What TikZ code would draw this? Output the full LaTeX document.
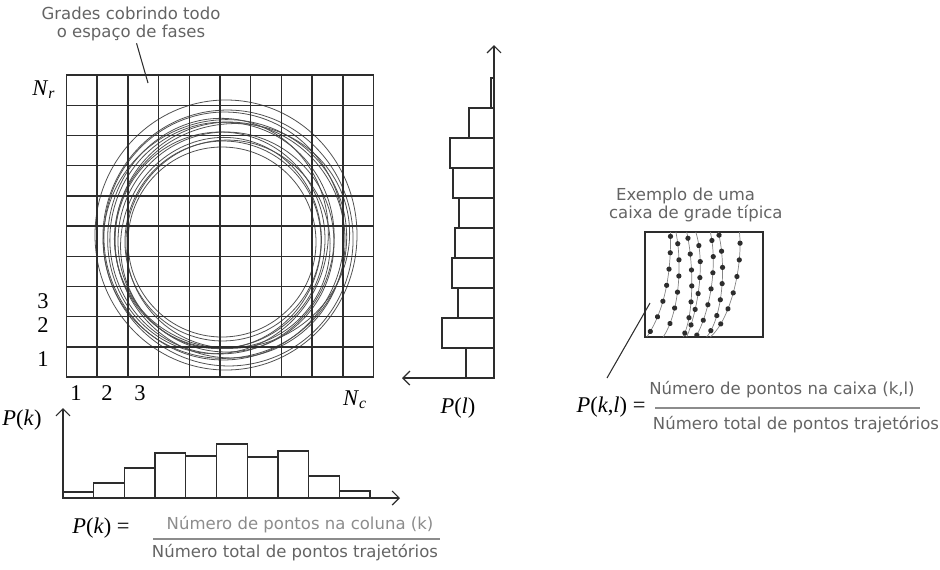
\documentclass[tikz,border=0pt]{standalone}
\usepackage{fontspec}
\setmainfont{Liberation Serif}
\newfontfamily\notefont{DejaVu Sans}
\usepackage{tikz}
\usetikzlibrary{arrows.meta,decorations.markings}
\definecolor{inkgray}{RGB}{45,45,45}
\definecolor{notegray}{RGB}{100,100,100}
\definecolor{numgray}{RGB}{140,140,140}
\definecolor{trajgray}{RGB}{80,80,80}

\begin{document}
\begin{tikzpicture}[x=0.02cm, y=-0.02cm, >={Straight Barb[length=4pt,width=8pt]},
  gridline/.style={draw=inkgray, line width=0.8pt, line cap=rect},
  traj/.style={draw=trajgray, line width=0.45pt},
  bar/.style={draw=inkgray, line width=0.7pt},
  axis/.style={->, draw=inkgray, line width=0.7pt},
  pointer/.style={draw=inkgray, line width=0.6pt},
  fracline/.style={draw=numgray, line width=0.6pt},
  note/.style={font=\notefont\fontsize{9.4}{10.4}\selectfont, text=notegray, align=center, inner sep=1pt},
  sym/.style={font=\fontsize{12.8}{14}\selectfont, text=black, inner sep=1pt},
  dotline/.style={draw=trajgray!70, line width=0.4pt, postaction={decorate}, decoration={markings,
    mark=between positions #1 and 0.99 step 0.15 with {\fill[inkgray] (0,0) circle (1.5pt);}}}]
  \useasboundingbox (0,0) rectangle (940,569);

  % phase space grid with trajectories
  \foreach \cx/\cy/\rx/\ry/\rot in {226/235/131/135/0, 228/238/125/128/8, 224/236/120/124/-6,
      230/240/115/118/10, 222/238/112/116/-10, 226/242/108/110/5, 220/240/105/108/-4,
      228/244/102/104/12, 223/241/98/100/-8, 222/242/94/95/0, 232/236/118/112/15, 218/236/110/118/-12,
      225/239/122/119/20, 221/243/100/106/-15}
    \draw[traj, rotate around={\rot:(\cx,\cy)}] (\cx,\cy) ellipse [x radius=\rx, y radius=\ry];
  \foreach \i in {0,...,10} {
    \draw[gridline] (66.5+30.7*\i,75) -- (66.5+30.7*\i,377);
    \draw[gridline] (66.5,75+30.2*\i) -- (373.5,75+30.2*\i);
  }

  \node[note] (gradetxt) at (131,24) {Grades cobrindo todo\\o espaço de fases};
  \coordinate (cellpt) at (148,83);
  \draw[pointer] (gradetxt) -- (cellpt);

  \node[sym] (nr) at (44,90) {\textit{N}\textsubscript{\textit{r}}};
  \node[sym] (row3) at (43,301) {3};
  \node[sym] (row2) at (43,325) {2};
  \node[sym] (row1) at (43,359) {1};
  \node[sym] (col1) at (76,393) {1};
  \node[sym] (col2) at (107,393) {2};
  \node[sym] (col3) at (140,393) {3};
  \node[sym] (nc) at (355,400) {\textit{N}\textsubscript{\textit{c}}};

  % P(l) histogram
  \foreach \w [count=\i from 0] in {3,25,44,41,35,39,42,36,52,28}
    \draw[bar] (494,78+30*\i) rectangle (494-\w,108+30*\i);
  \coordinate (plorigin) at (494,378);
  \coordinate (pltop) at (494,45);
  \coordinate (plleft) at (402,378);
  \draw[axis] (plorigin) -- (pltop);
  \draw[axis] (plorigin) -- (plleft);
  \node[sym] (pl) at (458,408) {\textit{P}(\textit{l})};

  % P(k) histogram
  \foreach \h [count=\i from 0] in {6,15,30,45,42,54,41,47,22,7}
    \draw[bar] (63+30.7*\i,498) rectangle (93.7+30.7*\i,498-\h);
  \coordinate (pkorigin) at (63,498);
  \coordinate (pktop) at (63,408);
  \coordinate (pkright) at (400,498);
  \draw[axis] (pkorigin) -- (pktop);
  \draw[axis] (pkorigin) -- (pkright);
  \node[sym] (pk) at (22,420) {\textit{P}(\textit{k})};

  \node[sym] (pkleft) at (101,528) {\textit{P}(\textit{k}) =};
  \node[note, text=numgray] (pknum) at (300,525) {Número de pontos na coluna (k)};
  \node[note] (pkden) at (295,553) {Número total de pontos trajetórios};
  \coordinate (pkfracl) at (153,539);
  \coordinate (pkfracr) at (440,539);
  \draw[fracline] (pkfracl) -- (pkfracr);

  % typical grid box
  \node[note, align=left, anchor=west] (boxtxt) at (607,205) {\hspace*{4pt}Exemplo de uma\\caixa de grade típica};
  \draw[bar] (645,232) rectangle (763,337);
  \draw[dotline=0.04] (670.4,232) .. controls (671.5,272) and (665,310) .. (646.8,337);
  \draw[dotline=0.11] (675.9,232) .. controls (683,268) and (678,315) .. (663.2,337);
  \draw[dotline=0.06] (686.7,232) .. controls (694,265) and (694,315) .. (683.1,337);
  \draw[dotline=0.13] (695.8,232) .. controls (706,265) and (697,312) .. (686.7,337);
  \draw[dotline=0.08] (710.3,232) .. controls (718,265) and (710,312) .. (695.8,337);
  \draw[dotline=0.03] (718.3,232) .. controls (727,268) and (722,318) .. (706.7,337);
  \draw[dotline=0.10] (739.4,232) .. controls (743,262) and (732,318) .. (710.3,337);

  \coordinate (boxpt) at (650,303);
  \coordinate (pklend) at (607,378);
  \draw[pointer] (boxpt) -- (pklend);

  \node[sym] (pklleft) at (611,407) {\textit{P}(\textit{k},\textit{l}) =};
  \node[note] (pklnum) at (782,390) {Número de pontos na caixa (k,l)};
  \node[note] (pklden) at (796,425) {Número total de pontos trajetórios};
  \coordinate (pklfracl) at (655,408);
  \coordinate (pklfracr) at (920,408);
  \draw[fracline] (pklfracl) -- (pklfracr);
\end{tikzpicture}
\end{document}
